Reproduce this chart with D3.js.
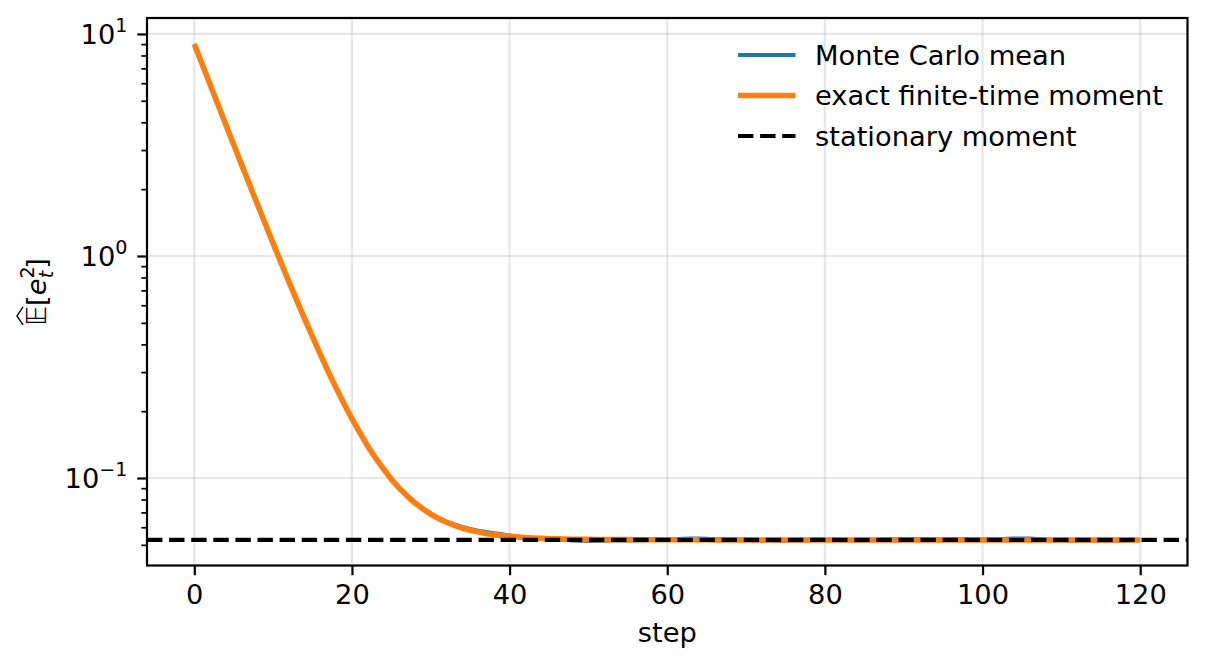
<!DOCTYPE html>
<html>
<head>
<meta charset="utf-8">
<script src="https://cdn.jsdelivr.net/npm/d3@7"></script>
<style>
  body { margin: 0; background: #fff; }
  svg { display: block; font-family: "DejaVu Sans", sans-serif; }
</style>
</head>
<body>
<svg id="chart" width="1207" height="668"></svg>
<script>
// exact finite-time second moment, one value per step 0..120
const exactMoment = [
  9.000, 7.300, 5.923, 4.808, 3.904, 3.172, 2.580, 2.099, 1.711, 1.396,
  1.140, 0.934, 0.766, 0.631, 0.521, 0.432, 0.360, 0.301, 0.254, 0.216,
  0.185, 0.160, 0.139, 0.123, 0.110, 0.0987, 0.0900, 0.0829, 0.0771, 0.0725,
  0.0687, 0.0656, 0.0632, 0.0612, 0.0595, 0.0582, 0.0572, 0.0563, 0.0556, 0.0550,
  0.0546, 0.0542, 0.0539, 0.0537, 0.0535, 0.0533, 0.0532, 0.0531, 0.0530, 0.0529,
  0.0529, 0.0528, 0.0528, 0.0528, 0.0528, 0.0528, 0.0527, 0.0527, 0.0527, 0.0527,
  0.0527, 0.0527, 0.0527, 0.0527, 0.0527, 0.0527, 0.0526, 0.0526, 0.0526, 0.0526,
  0.0526, 0.0526, 0.0526, 0.0526, 0.0526, 0.0526, 0.0526, 0.0526, 0.0526, 0.0526,
  0.0526, 0.0526, 0.0526, 0.0526, 0.0526, 0.0526, 0.0526, 0.0526, 0.0526, 0.0526,
  0.0526, 0.0526, 0.0526, 0.0526, 0.0526, 0.0526, 0.0526, 0.0526, 0.0526, 0.0526,
  0.0526, 0.0526, 0.0526, 0.0526, 0.0526, 0.0526, 0.0526, 0.0526, 0.0526, 0.0526,
  0.0526, 0.0526, 0.0526, 0.0526, 0.0526, 0.0526, 0.0526, 0.0526, 0.0526, 0.0526,
  0.0526
]

// monte carlo mean, steps 0..120
const mcMean = [
  9.00, 7.29, 5.93, 4.80, 3.91, 3.17, 2.58, 2.10, 1.71, 1.395,
  1.14, 0.935, 0.765, 0.632, 0.520, 0.433, 0.360, 0.301, 0.254, 0.216,
  0.185, 0.160, 0.1395, 0.1235, 0.1105, 0.0992, 0.0905, 0.0835, 0.0777, 0.0731,
  0.0692, 0.0660, 0.0636, 0.0617, 0.0601, 0.0589, 0.0579, 0.0571, 0.0564, 0.0557,
  0.0550, 0.0544, 0.0539, 0.0535, 0.0533, 0.0531, 0.0529, 0.0527, 0.0524, 0.0522,
  0.0521, 0.0521, 0.0522, 0.0523, 0.0524, 0.0524, 0.0525, 0.0525, 0.0526, 0.0527,
  0.0528, 0.0530, 0.0532, 0.0533, 0.0533, 0.0532, 0.0530, 0.0529, 0.0528, 0.0527,
  0.0526, 0.0525, 0.0524, 0.0523, 0.0522, 0.0522, 0.0523, 0.0524, 0.0525, 0.0526,
  0.0526, 0.0526, 0.0525, 0.0525, 0.0524, 0.0524, 0.0525, 0.0526, 0.0528, 0.0529,
  0.0530, 0.0531, 0.0530, 0.0529, 0.0528, 0.0528, 0.0529, 0.0530, 0.0529, 0.0528,
  0.0528, 0.0529, 0.0530, 0.0532, 0.0533, 0.0534, 0.0533, 0.0531, 0.0528, 0.0525,
  0.0523, 0.0523, 0.0524, 0.0524, 0.0523, 0.0522, 0.0522, 0.0523, 0.0524, 0.0525,
  0.0526
]

const stationary = 0.0526

const xTicks = [0, 20, 40, 60, 80, 100, 120]
const xLimits = [-6, 126]
const yLimits = [0.04036, 11.8]
const yMajor = [0.1, 1, 10]
const yMajorExp = ["−1", "0", "1"]
const yMinor = [0.05, 0.06, 0.07, 0.08, 0.09, 0.2, 0.3, 0.4, 0.5, 0.6, 0.7, 0.8, 0.9, 2, 3, 4, 5, 6, 7, 8, 9]
const legendLabels = ["Monte Carlo mean", "exact finite-time moment", "stationary moment"]

const W = 1207, H = 668
const MARGIN = { left: 147, right: 19.5, top: 18, bottom: 102.5 }
const FS = 27.3

const svg = d3.select("#chart")
const plotW = W - MARGIN.left - MARGIN.right
const plotH = H - MARGIN.top - MARGIN.bottom

const x = d3.scaleLinear().domain(xLimits).range([0, plotW])
const y = d3.scaleLog().domain(yLimits).range([plotH, 0])

const g = svg.append("g").attr("transform", `translate(${MARGIN.left},${MARGIN.top})`)

g.append("clipPath").attr("id", "clip")
  .append("rect").attr("width", plotW).attr("height", plotH)

// grid
const grid = g.append("g")
grid.selectAll(".gx").data(xTicks).enter().append("line")
  .attr("x1", d => x(d)).attr("x2", d => x(d))
  .attr("y1", 0).attr("y2", plotH)
  .attr("stroke", "#b0b0b0").attr("stroke-opacity", 0.3).attr("stroke-width", 2.2)
grid.selectAll(".gy").data(yMajor).enter().append("line")
  .attr("x1", 0).attr("x2", plotW)
  .attr("y1", d => y(d)).attr("y2", d => y(d))
  .attr("stroke", "#b0b0b0").attr("stroke-opacity", 0.3).attr("stroke-width", 2.2)

// lines
const steps = d3.range(exactMoment.length)
const line = d3.line().x(d => x(d[0])).y(d => y(d[1]))
const plot = g.append("g").attr("clip-path", "url(#clip)")

plot.append("path")
  .datum(steps.map(i => [i, mcMean[i]]))
  .attr("d", line)
  .attr("fill", "none").attr("stroke", "#1f77b4").attr("stroke-width", 4.2)
  .attr("stroke-linejoin", "round")

plot.append("path")
  .datum(steps.map(i => [i, exactMoment[i]]))
  .attr("d", line)
  .attr("fill", "none").attr("stroke", "#ff7f0e").attr("stroke-width", 5.6)
  .attr("stroke-linejoin", "round")

plot.append("line")
  .attr("x1", 0).attr("x2", plotW)
  .attr("y1", y(stationary)).attr("y2", y(stationary))
  .attr("stroke", "#000").attr("stroke-width", 4.2)
  .attr("stroke-dasharray", "15.4,6.7")

// axes
const xAxis = g.append("g")
  .attr("transform", `translate(0,${plotH})`)
  .call(d3.axisBottom(x).tickValues(xTicks).tickSize(9.7).tickPadding(9).tickSizeOuter(0))
xAxis.select(".domain").remove()
xAxis.selectAll("line").attr("stroke-width", 2.2)
xAxis.selectAll("text").attr("font-size", FS).attr("font-family", "DejaVu Sans").attr("fill", "#000")

const yAxis = g.append("g")
  .call(d3.axisLeft(y).tickValues(yMajor).tickSize(9.7).tickFormat("").tickSizeOuter(0))
yAxis.select(".domain").remove()
yAxis.selectAll("line").attr("stroke-width", 2.2)

const yMinorAxis = g.append("g")
  .call(d3.axisLeft(y).tickValues(yMinor).tickSize(5.6).tickFormat("").tickSizeOuter(0))
yMinorAxis.select(".domain").remove()
yMinorAxis.selectAll("line").attr("stroke-width", 1.7)

// log tick labels 10^k
yMajor.forEach((v, i) => {
  const t = g.append("text")
    .attr("x", -19.5).attr("y", y(v)).attr("dy", "0.36em")
    .attr("text-anchor", "end").attr("font-size", FS).attr("fill", "#000")
  t.append("tspan").text("10")
  t.append("tspan").text(yMajorExp[i]).attr("font-size", FS * 0.7).attr("dy", "-0.62em")
})

// spines
g.append("rect").attr("width", plotW).attr("height", plotH)
  .attr("fill", "none").attr("stroke", "#000").attr("stroke-width", 2.2)

// x label
svg.append("text")
  .attr("x", MARGIN.left + plotW / 2).attr("y", 642)
  .attr("text-anchor", "middle").attr("font-size", FS)
  .text("step")

// y label, rotated
const yl = svg.append("g").attr("transform", "translate(46,292) rotate(-90)")
const ylt = yl.append("text").attr("font-size", FS).attr("x", 0).attr("y", 0)
ylt.append("tspan").text("𝔼").attr("font-style", "italic")
ylt.append("tspan").text("[")
ylt.append("tspan").text("e").attr("font-style", "italic")
ylt.append("tspan").text("2").attr("font-size", FS * 0.7).attr("dy", -12)
ylt.append("tspan").text("t").attr("font-size", FS * 0.7).attr("font-style", "italic").attr("dx", -12).attr("dy", 19)
ylt.append("tspan").text("]").attr("dy", -7).attr("dx", 2)
const bb = ylt.node().getBBox()
ylt.attr("x", -bb.width / 2)
ylt.select("tspan").attr("x", -bb.width / 2)
const eW = ylt.node().getSubStringLength(0, 2)
const hx0 = -bb.width / 2, hx1 = hx0 + eW
yl.append("path")
  .attr("d", `M${hx0 + 1},-23 L${(hx0 + hx1) / 2},-29 L${hx1 - 1},-23`)
  .attr("fill", "none").attr("stroke", "#000").attr("stroke-width", 1.4)

// legend, no frame
const legend = g.append("g").attr("transform", `translate(${738 - MARGIN.left},${55 - MARGIN.top})`)
const legendStyles = [
  { color: "#1f77b4", width: 4.2, dash: null },
  { color: "#ff7f0e", width: 5.6, dash: null },
  { color: "#000", width: 4.2, dash: "15.4,6.7" }
]
legendLabels.forEach((lab, i) => {
  const row = legend.append("g").attr("transform", `translate(0,${i * 40.5})`)
  row.append("line").attr("x1", 0).attr("x2", 57.5).attr("y1", 0).attr("y2", 0)
    .attr("stroke", legendStyles[i].color).attr("stroke-width", legendStyles[i].width)
    .attr("stroke-dasharray", legendStyles[i].dash)
  row.append("text").attr("x", 77).attr("y", 0).attr("dy", "0.36em")
    .attr("font-size", FS).text(lab)
})
</script>
</body>
</html>
